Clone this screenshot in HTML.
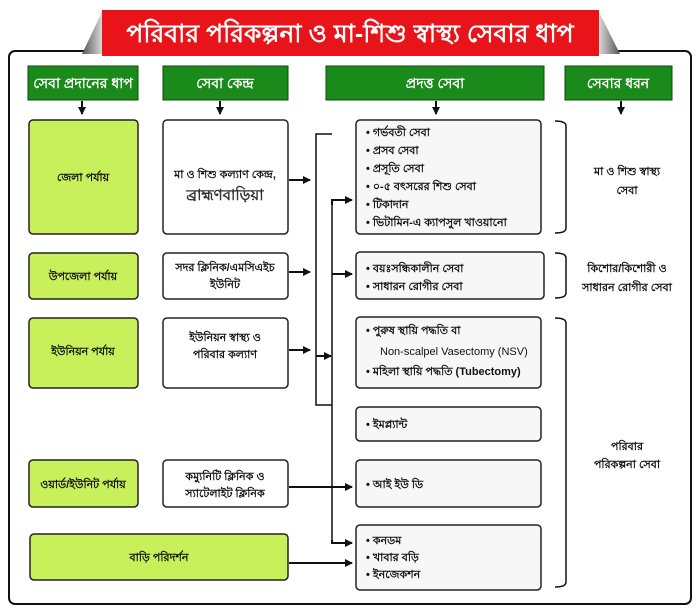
<!DOCTYPE html>
<html><head><meta charset="utf-8"><style>
body{margin:0;background:#fff}
svg{display:block}
text{font-family:"Liberation Sans","Noto Sans CJK SC",sans-serif;fill:#111}
</style></head><body>
<svg width="700" height="614" viewBox="0 0 700 614" xmlns="http://www.w3.org/2000/svg">
<defs>
<linearGradient id="gr" x1="0" x2="1"><stop offset="0" stop-color="#d8d8d8"/><stop offset="1" stop-color="#555"/></linearGradient>
<linearGradient id="gl" x1="0" x2="1"><stop offset="0" stop-color="#555"/><stop offset="1" stop-color="#d8d8d8"/></linearGradient>
<marker id="ar" markerWidth="8" markerHeight="8" refX="7" refY="4" orient="auto" markerUnits="userSpaceOnUse"><path d="M0,0 L8,4 L0,8 Z" fill="#111"/></marker>
</defs>
<rect x="9" y="51" width="682" height="553" rx="6" fill="#fff" stroke="#111" stroke-width="2"/>
<polygon points="82,54 102,12 102,54" fill="url(#gl)"/>
<polygon points="599,12 620,54 599,54" fill="url(#gr)"/>
<rect x="102" y="10" width="497" height="46" fill="#e8141a"/>
<text x="350" y="42" text-anchor="middle" font-size="25" font-weight="bold" style="fill:#fff">পরিবার পরিকল্পনা ও মা-শিশু স্বাস্থ্য সেবার ধাপ</text>

<g stroke="#0a4a0a" stroke-width="1">
<rect x="28" y="66" width="110" height="34" fill="#1a8a1a"/>
<rect x="163" y="66" width="125" height="34" fill="#1a8a1a"/>
<rect x="326" y="66" width="218" height="34" fill="#1a8a1a"/>
<rect x="565" y="66" width="107" height="34" fill="#1a8a1a"/>
</g>
<g font-size="14" text-anchor="middle" font-weight="bold">
<text x="83" y="88" style="fill:#fff">সেবা প্রদানের ধাপ</text>
<text x="225" y="88" style="fill:#fff">সেবা কেন্দ্র</text>
<text x="435" y="88" style="fill:#fff">প্রদত্ত সেবা</text>
<text x="618" y="88" style="fill:#fff">সেবার ধরন</text>
</g>
<g stroke="#111" stroke-width="2" fill="none" marker-end="url(#ar)">
<line x1="82" y1="101" x2="82" y2="114"/>
<line x1="220" y1="101" x2="220" y2="114"/>
<line x1="436" y1="101" x2="436" y2="114"/>
<line x1="621" y1="101" x2="621" y2="114"/>
</g>

<g stroke="#222" stroke-width="1.5">
<rect x="29" y="120" width="109" height="114" rx="4" fill="#c8f05a"/>
<rect x="29" y="253" width="109" height="46" rx="4" fill="#c8f05a"/>
<rect x="29" y="318" width="109" height="70" rx="4" fill="#c8f05a"/>
<rect x="29" y="460" width="109" height="47" rx="4" fill="#c8f05a"/>
<rect x="30" y="534" width="258" height="46" rx="4" fill="#c8f05a"/>
<rect x="163" y="120" width="125" height="114" rx="4" fill="#fff"/>
<rect x="163" y="253" width="125" height="46" rx="4" fill="#fff"/>
<rect x="163" y="318" width="125" height="70" rx="4" fill="#fff"/>
<rect x="163" y="460" width="125" height="47" rx="4" fill="#fff"/>
<rect x="356" y="120" width="185" height="114" rx="4" fill="#f7f7f7"/>
<rect x="356" y="252" width="188" height="47" rx="4" fill="#f7f7f7"/>
<rect x="356" y="317" width="185" height="71" rx="4" fill="#f7f7f7"/>
<rect x="356" y="407" width="185" height="34" rx="4" fill="#f7f7f7"/>
<rect x="356" y="460" width="185" height="47" rx="4" fill="#f7f7f7"/>
<rect x="356" y="525" width="185" height="65" rx="4" fill="#f7f7f7"/>
</g>

<g font-size="11" text-anchor="middle" font-weight="bold">
<text x="83" y="181">জেলা পর্যায়</text>
<text x="83" y="280">উপজেলা পর্যায়</text>
<text x="83" y="355">ইউনিয়ন পর্যায়</text>
<text x="83" y="488">ওয়ার্ড/ইউনিট পর্যায়</text>
<text x="159" y="561">বাড়ি পরিদর্শন</text>
<text x="225" y="178">মা ও শিশু কল্যাণ কেন্দ্র,</text>
<text x="225" y="200" font-size="15" style="fill:#333">ব্রাহ্মণবাড়িয়া</text>
<text x="225" y="271">সদর ক্লিনিক/এমসিএইচ</text>
<text x="225" y="288">ইউনিট</text>
<text x="225" y="341">ইউনিয়ন স্বাস্থ্য ও</text>
<text x="225" y="358">পরিবার কল্যাণ</text>
<text x="225" y="480">কম্যুনিটি ক্লিনিক ও</text>
<text x="225" y="497">স্যাটেলাইট ক্লিনিক</text>
<text x="627" y="175">মা ও শিশু স্বাস্থ্য</text>
<text x="627" y="194">সেবা</text>
<text x="627" y="272">কিশোর/কিশোরী ও</text>
<text x="627" y="291">সাধারন রোগীর সেবা</text>
<text x="627" y="450">পরিবার</text>
<text x="627" y="468">পরিকল্পনা সেবা</text>
</g>

<g font-size="11" font-weight="bold">
<text x="366" y="136">•   গর্ভবতী সেবা</text>
<text x="366" y="154">•   প্রসব সেবা</text>
<text x="366" y="172">•   প্রসূতি সেবা</text>
<text x="366" y="190">•   ০-৫ বৎসরের শিশু সেবা</text>
<text x="366" y="208">•   টিকাদান</text>
<text x="366" y="226">•   ভিটামিন-এ ক্যাপসুল খাওয়ানো</text>
<text x="366" y="272">•   বয়ঃসন্ধিকালীন সেবা</text>
<text x="366" y="290">•   সাধারন রোগীর সেবা</text>
<text x="366" y="334">•   পুরুষ স্থায়ি পদ্ধতি বা</text>
<text x="380" y="355" font-weight="normal">Non-scalpel Vasectomy (NSV)</text>
<text x="366" y="375">•   মহিলা স্থায়ি পদ্ধতি (Tubectomy)</text>
<text x="366" y="428">•   ইমপ্ল্যান্ট</text>
<text x="366" y="488">•   আই ইউ ডি</text>
<text x="366" y="544">•   কনডম</text>
<text x="366" y="561">•   খাবার বড়ি</text>
<text x="366" y="578">•   ইনজেকশন</text>
</g>

<g stroke="#111" stroke-width="1.5" fill="none">
<path d="M555,121 Q566,121 566,126 L566,228 Q566,233 555,233"/>
<path d="M555,253 Q566,253 566,258 L566,293 Q566,298 555,298"/>
<path d="M555,318 Q566,318 566,323 L566,582 Q566,587 555,587"/>
<path d="M332,134 L316,134 L316,405 L332,405"/>
<line x1="332" y1="205" x2="332" y2="543"/>
</g>
<g stroke="#111" stroke-width="2" fill="none" marker-end="url(#ar)">
<line x1="289" y1="180" x2="310" y2="180"/>
<line x1="289" y1="272" x2="310" y2="272"/>
<line x1="289" y1="350" x2="310" y2="350"/>
<line x1="316" y1="356" x2="331" y2="356"/>
<path d="M332,205 L332,200 L352,200"/>
<line x1="332" y1="274" x2="352" y2="274"/>
<line x1="289" y1="487" x2="352" y2="487"/>
<path d="M332,540 L332,543 L352,543"/>
<line x1="289" y1="563" x2="352" y2="563"/>
</g>
</svg>
</body></html>
